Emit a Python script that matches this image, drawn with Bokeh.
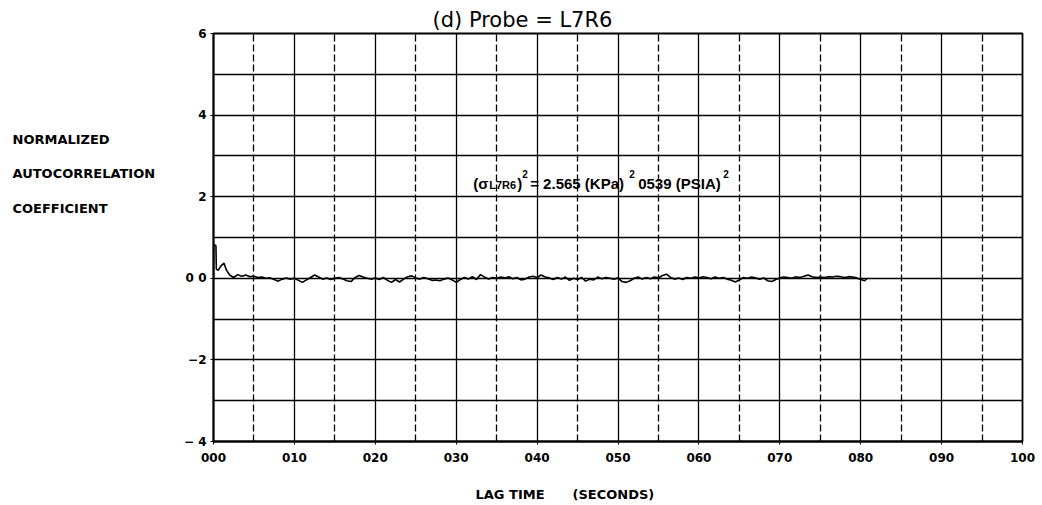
from bokeh.plotting import figure
from bokeh.layouts import row, column
from bokeh.models import Range1d, FixedTicker, Grid, ColumnDataSource
from bokeh.core.properties import value
from bokeh.embed import file_html
from bokeh.resources import INLINE

# ---------------- data ----------------
lag = [0.0, 0.02, 0.3, 0.35, 0.6, 0.9, 1.3, 1.6, 2.0,
       2.5, 3.0, 3.5, 4.0, 4.5, 5.0, 5.5, 6.0, 6.5, 7.0, 7.5, 8.0, 8.5, 9.0, 9.5,
       10.0, 10.5, 11.0, 11.5, 12.0, 12.5, 13.0, 13.5, 14.0, 14.5, 15.0, 15.5, 16.0, 16.5,
       17.0, 17.5, 18.0, 18.5, 19.0, 19.5, 20.0, 20.5, 21.0, 21.5, 22.0, 22.5, 23.0, 23.5,
       24.0, 24.5, 25.0, 25.5, 26.0, 26.5, 27.0, 27.5, 28.0, 28.5, 29.0, 29.5, 30.0, 30.5,
       31.0, 31.5, 32.0, 32.5, 33.0, 33.5, 34.0, 34.5, 35.0, 35.5, 36.0, 36.5, 37.0, 37.5,
       38.0, 38.5, 39.0, 39.5, 40.0, 40.5, 41.0, 41.5, 42.0, 42.5, 43.0, 43.5, 44.0, 44.5,
       45.0, 45.5, 46.0, 46.5, 47.0, 47.5, 48.0, 48.5, 49.0, 49.5, 50.0, 50.5, 51.0, 51.5,
       52.0, 52.5, 53.0, 53.5, 54.0, 54.5, 55.0, 55.5, 56.0, 56.5, 57.0, 57.5, 58.0, 58.5,
       59.0, 59.5, 60.0, 60.5, 61.0, 61.5, 62.0, 62.5, 63.0, 63.5, 64.0, 64.5, 65.0, 65.5,
       66.0, 66.5, 67.0, 67.5, 68.0, 68.5, 69.0, 69.5, 70.0, 70.5, 71.0, 71.5, 72.0, 72.5,
       73.0, 73.5, 74.0, 74.5, 75.0, 75.5, 76.0, 76.5, 77.0, 77.5, 78.0, 78.5, 79.0, 79.5,
       80.0, 80.5, 80.8]
corr = [0.0, 0.83, 0.8, 0.22, 0.2, 0.3, 0.37, 0.2, 0.08,
        0.02, 0.09, 0.05, 0.08, 0.04, 0.05, 0.02, 0.03, 0.0, 0.01, -0.03, -0.07, -0.02, 0.01, -0.02,
        0.0, -0.05, -0.1, -0.04, 0.02, 0.08, 0.03, -0.02, 0.01, -0.03, 0.0, 0.02, -0.02, -0.06,
        -0.08, 0.02, 0.07, 0.03, 0.0, -0.02, 0.01, -0.03, 0.02, -0.05, -0.1, -0.03, -0.09, -0.02,
        0.04, 0.06, 0.01, -0.02, 0.02, -0.01, -0.05, -0.04, -0.06, -0.02, 0.01, -0.04, -0.1, -0.03,
        0.02, -0.02, 0.04, -0.03, 0.09, 0.03, -0.02, 0.02, 0.0, 0.03, 0.01, 0.04, -0.01, 0.02,
        -0.04, -0.02, 0.03, 0.05, 0.02, 0.08, 0.03, 0.01, -0.03, 0.02, -0.02, 0.03, -0.05, 0.0,
        -0.03, 0.02, -0.07, -0.02, -0.04, 0.03, -0.01, 0.02, 0.0, -0.02, 0.01, -0.08, -0.1, -0.06,
        0.0, 0.03, -0.02, 0.02, -0.01, 0.03, 0.01, 0.07, 0.1, 0.02, -0.02, 0.01, -0.03, 0.02,
        0.0, 0.03, 0.01, 0.04, 0.02, -0.01, 0.03, 0.0, 0.02, -0.02, -0.05, -0.09, -0.04, 0.02,
        0.0, 0.03, 0.01, -0.02, 0.01, -0.06, -0.08, -0.03, 0.01, 0.03, 0.02, 0.0, 0.04, 0.02,
        0.05, 0.08, 0.04, 0.02, 0.03, 0.02, 0.04, 0.03, 0.05, 0.04, 0.02, 0.04, 0.03, 0.01,
        -0.03, -0.06, 0.0]

x_ticks = [0, 10, 20, 30, 40, 50, 60, 70, 80, 90, 100]
x_tick_labels = ["000", "010", "020", "030", "040", "050", "060", "070", "080", "090", "100"]
x_dash_ticks = [5, 15, 25, 35, 45, 55, 65, 75, 85, 95]
y_ticks = [-4, -2, 0, 2, 4, 6]
y_tick_labels = ["\u2212 4", "\u22122", "0 0", "2", "4", "6"]
y_grid_ticks = [-4, -3, -2, -1, 0, 1, 2, 3, 4, 5, 6]

title_text = "(d) Probe = L7R6"
y_label_lines = ["NORMALIZED", "AUTOCORRELATION", "COEFFICIENT"]
x_label_parts = ["LAG TIME", "(SECONDS)"]
sigma_parts = ["(\u03c3", "L7R6", ")", "2", " = 2.565 (KPa)", "2", "0539 (PSIA)", "2"]

# ---------------- layout / style ----------------
sigma_offsets = [0, 16, 44, 49, 57, 156, 165, 250]
sigma_yoff = [0, 2, 0, -9, 0, -9, 0, -9]
sigma_sizes = ["15px", "11px", "15px", "10px", "15px", "10px", "15px", "10px"]

W = 1042
LEFT_W = 180
TOP = 33
MAIN_H = 469
BOTTOM = MAIN_H - 441
STRIP_H = 505 - MAIN_H

# left panel holding the horizontal y-axis caption
side = figure(width=LEFT_W, height=MAIN_H, x_range=Range1d(0, LEFT_W), y_range=Range1d(-4, 6),
              output_backend="svg", toolbar_location=None,
              min_border_left=0, min_border_right=0,
              min_border_top=TOP, min_border_bottom=BOTTOM)
side.axis.visible = False
side.grid.visible = False
side.outline_line_color = None
side.text(x=[12, 12, 12], y=[3.41, 2.58, 1.72], text=y_label_lines,
          text_font=value("DejaVu Sans"), text_font_style="bold",
          text_font_size="13px", text_color="black",
          text_baseline="middle", text_align="left")

p = figure(width=W - LEFT_W, height=MAIN_H,
           x_range=Range1d(0, 100), y_range=Range1d(-4, 6),
           output_backend="svg", toolbar_location=None,
           min_border_left=213 - LEFT_W, min_border_right=20,
           min_border_top=TOP, min_border_bottom=BOTTOM)

p.title.text = title_text
p.title.align = "left"
p.title.offset = 219
p.title.text_font = "DejaVu Sans"
p.title.text_font_size = "21px"
p.title.text_font_style = "normal"
p.title.text_color = "black"
p.title.standoff = 4

p.outline_line_color = "black"
p.outline_line_width = 1.8
p.outline_line_alpha = 1.0

for ax in (p.xaxis[0], p.yaxis[0]):
    ax.axis_line_color = "black"
    ax.axis_line_width = 1.8
    ax.major_tick_line_color = "black"
    ax.major_tick_out = 3
    ax.major_tick_in = 0
    ax.minor_tick_line_color = None
    ax.major_label_text_font = "DejaVu Sans"
    ax.major_label_text_font_style = "bold"
    ax.major_label_text_font_size = "12px"
    ax.major_label_text_color = "black"

p.xaxis.ticker = FixedTicker(ticks=x_ticks)
p.xaxis.major_label_overrides = {t: l for t, l in zip(x_ticks, x_tick_labels)}
p.xaxis.major_label_standoff = 8
p.yaxis.ticker = FixedTicker(ticks=y_ticks)
p.yaxis.major_label_overrides = {t: l for t, l in zip(y_ticks, y_tick_labels)}
p.yaxis.major_label_standoff = 4

p.xgrid.ticker = FixedTicker(ticks=x_ticks)
p.xgrid.grid_line_color = "black"
p.xgrid.grid_line_width = 1.3
p.xgrid.grid_line_alpha = 1.0
p.ygrid.ticker = FixedTicker(ticks=y_grid_ticks)
p.ygrid.grid_line_color = "black"
p.ygrid.grid_line_width = 1.7
p.ygrid.grid_line_alpha = 1.0
p.add_layout(Grid(dimension=0, ticker=FixedTicker(ticks=x_dash_ticks),
                  grid_line_color="black", grid_line_width=1.3,
                  grid_line_dash="7 3"))

p.line(lag, corr, line_color="black", line_width=1.6)

src = ColumnDataSource(dict(
    x=[32.1] * len(sigma_parts), y=[2.33] * len(sigma_parts),
    text=sigma_parts, xo=sigma_offsets, yo=sigma_yoff, size=sigma_sizes))
p.text(x="x", y="y", text="text", x_offset="xo", y_offset="yo",
       text_font_size="size", source=src, text_font=value("Liberation Sans"),
       text_font_style="bold", text_color="black",
       text_align="left", text_baseline="alphabetic")

# bottom strip holding the x-axis caption (pixel coordinates)
strip = figure(width=W, height=STRIP_H, x_range=Range1d(0, W), y_range=Range1d(0, STRIP_H),
               output_backend="svg", toolbar_location=None,
               min_border_left=0, min_border_right=0, min_border_top=0, min_border_bottom=0)
strip.axis.visible = False
strip.grid.visible = False
strip.outline_line_color = None
strip.text(x=[475, 572], y=[STRIP_H - (494 - MAIN_H)] * 2, text=x_label_parts,
           text_font=value("DejaVu Sans"), text_font_style="bold",
           text_font_size="13px", text_color="black",
           text_baseline="middle", text_align="left")

layout = column(row(side, p, spacing=0), strip, spacing=0)
open("out.html", "w").write(file_html(layout, INLINE))
